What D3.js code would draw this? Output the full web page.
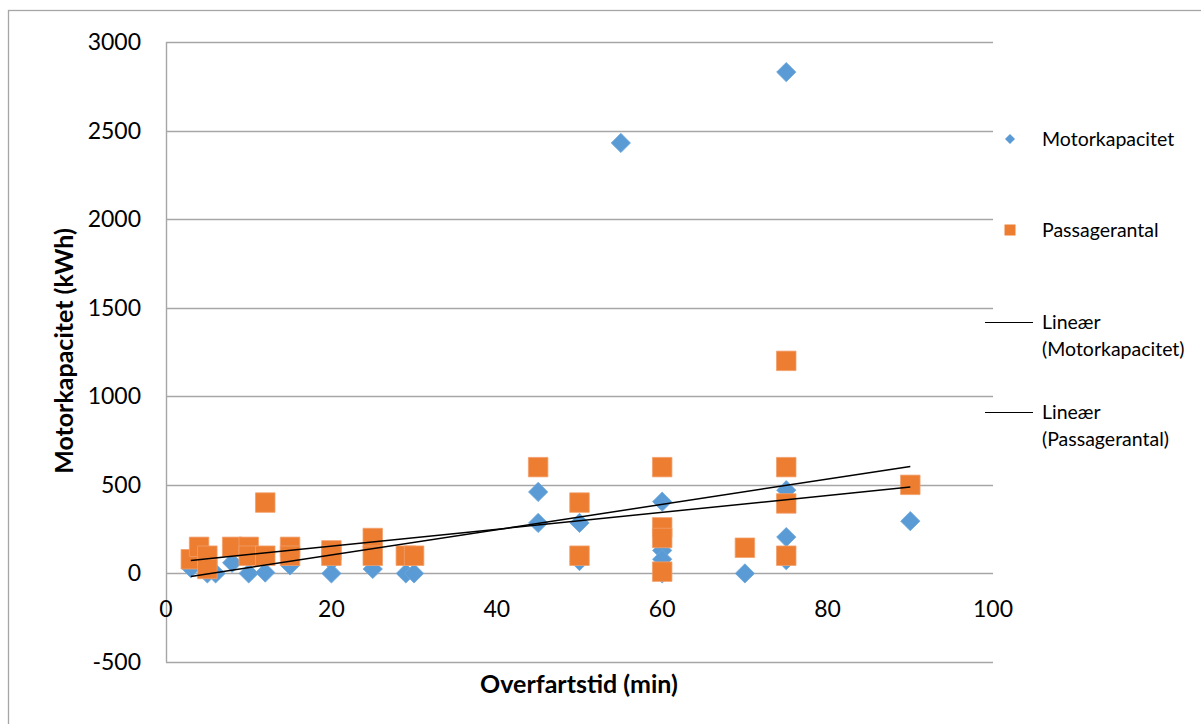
<!DOCTYPE html>
<html>
<head>
<meta charset="utf-8">
<script src="https://cdn.jsdelivr.net/npm/d3@7"></script>
<style>
  html, body { margin: 0; padding: 0; background: #fff; }
  svg { display: block; font-family: Lato, "Open Sans", sans-serif; }
</style>
</head>
<body>
<svg id="chart" width="1201" height="724"></svg>
<script>
// ---- data ----
const motorX = [3, 5, 6, 8, 10, 12, 15, 20, 20, 25, 29, 30, 45, 45, 50, 50, 55, 60, 60, 60, 60, 70, 75, 75, 75, 75, 90];
const motorY = [30, 0, 0, 60, 0, 5, 45, 70, 0, 25, 0, 0, 460, 285, 285, 70, 2430, 405, 130, 80, 0, 0, 2830, 470, 205, 75, 295];
const passX = [3, 4, 5, 5, 8, 10, 10, 12, 12, 15, 15, 20, 20, 25, 25, 29, 30, 45, 50, 50, 60, 60, 60, 60, 70, 75, 75, 75, 75, 90];
const passY = [80, 150, 100, 25, 150, 150, 100, 100, 400, 150, 100, 130, 100, 200, 100, 100, 100, 600, 400, 100, 600, 260, 200, 10, 145, 1200, 600, 395, 100, 500];
// linear trendlines as drawn in the reference (values at first and last x)
const trendX = [3, 90];
const motorTrend = [-17, 604];
const passTrend = [73, 488];
const xTicks = [0, 20, 40, 60, 80, 100];
const yTicks = [-500, 0, 500, 1000, 1500, 2000, 2500, 3000];
const seriesNames = ["Motorkapacitet", "Passagerantal"];
const trendNames = [["Lineær", "(Motorkapacitet)"], ["Lineær", "(Passagerantal)"]];
const xTitle = "Overfartstid (min)";
const yTitle = "Motorkapacitet (kWh)";

const BLUE = "#5B9BD5", ORANGE = "#ED7D31", GRID = "#A6A6A6";

const svg = d3.select("#chart");
const plot = { left: 166, right: 993, top: 42, bottom: 662 };
const x = d3.scaleLinear().domain([0, 100]).range([plot.left, plot.right]);
const y = d3.scaleLinear().domain([-500, 3000]).range([plot.bottom, plot.top]);

// outer chart frame
svg.append("rect").attr("x", 8.5).attr("y", 10.5).attr("width", 1250).attr("height", 760)
  .attr("fill", "none").attr("stroke", GRID).attr("stroke-width", 1.3);

// horizontal gridlines
svg.append("g").selectAll("line").data(yTicks).join("line")
  .attr("x1", plot.left).attr("x2", plot.right)
  .attr("y1", d => Math.round(y(d)) + 0.5).attr("y2", d => Math.round(y(d)) + 0.5)
  .attr("stroke", GRID).attr("stroke-width", 1.4);

// vertical axis line
svg.append("line").attr("x1", plot.left + 0.5).attr("x2", plot.left + 0.5)
  .attr("y1", plot.top).attr("y2", plot.bottom).attr("stroke", GRID).attr("stroke-width", 1.4);

// y tick labels
svg.append("g").selectAll("text").data(yTicks).join("text")
  .attr("x", 141).attr("y", d => y(d)).attr("dy", "0.35em")
  .attr("text-anchor", "end").attr("font-size", 23).attr("fill", "#000")
  .text(d => d);

// x tick labels
svg.append("g").selectAll("text").data(xTicks).join("text")
  .attr("x", d => x(d)).attr("y", y(0) + 36).attr("dy", "0.35em")
  .attr("text-anchor", "middle").attr("font-size", 23).attr("fill", "#000")
  .text(d => d);

// axis titles
svg.append("text").attr("x", 579).attr("y", 684).attr("dy", "0.35em")
  .attr("text-anchor", "middle").attr("font-size", 25).attr("font-weight", "bold")
  .text(xTitle);
svg.append("text").attr("transform", "translate(64,351) rotate(-90)").attr("dy", "0.35em")
  .attr("text-anchor", "middle").attr("font-size", 25).attr("font-weight", "bold")
  .text(yTitle);

// markers
const diamond = d3.symbol(d3.symbolSquare, 185);
const square = d3.symbol(d3.symbolSquare, 380);
const motor = motorX.map((v, i) => [v, motorY[i]]);
const pass = passX.map((v, i) => [v, passY[i]]);

svg.append("g").selectAll("path").data(motor).join("path")
  .attr("d", diamond)
  .attr("transform", d => `translate(${x(d[0])},${y(d[1])}) rotate(45)`)
  .attr("fill", BLUE).attr("stroke", "#6AA6DA").attr("stroke-width", 0.8);

svg.append("g").selectAll("path").data(pass).join("path")
  .attr("d", square)
  .attr("transform", d => `translate(${x(d[0])},${y(d[1])})`)
  .attr("fill", ORANGE).attr("stroke", "#F2A06B").attr("stroke-width", 0.8);

// linear trendlines
const line = d3.line().x(d => x(d[0])).y(d => y(d[1]));
[motorTrend, passTrend].forEach(tv => {
  svg.append("path").attr("d", line(trendX.map((xv, i) => [xv, tv[i]])))
    .attr("fill", "none").attr("stroke", "#000").attr("stroke-width", 1.5);
});

// legend
const lg = svg.append("g").attr("font-size", 19.5);
lg.append("path").attr("d", d3.symbol(d3.symbolSquare, 50))
  .attr("transform", "translate(1010,139) rotate(45)").attr("fill", BLUE);
lg.append("text").attr("x", 1042).attr("y", 139).attr("dy", "0.35em").text(seriesNames[0]);
lg.append("path").attr("d", d3.symbol(d3.symbolSquare, 121))
  .attr("transform", "translate(1010,230)").attr("fill", ORANGE);
lg.append("text").attr("x", 1042).attr("y", 230).attr("dy", "0.35em").text(seriesNames[1]);
[[322, 0], [412, 1]].forEach(([yy, i]) => {
  lg.append("line").attr("x1", 985).attr("x2", 1033).attr("y1", yy + 0.5).attr("y2", yy + 0.5)
    .attr("stroke", "#000").attr("stroke-width", 1.2);
  lg.append("text").attr("x", 1042).attr("y", yy).attr("dy", "0.35em").text(trendNames[i][0]);
  lg.append("text").attr("x", 1042).attr("y", yy + 27).attr("dy", "0.35em").text(trendNames[i][1]);
});
</script>
</body>
</html>
